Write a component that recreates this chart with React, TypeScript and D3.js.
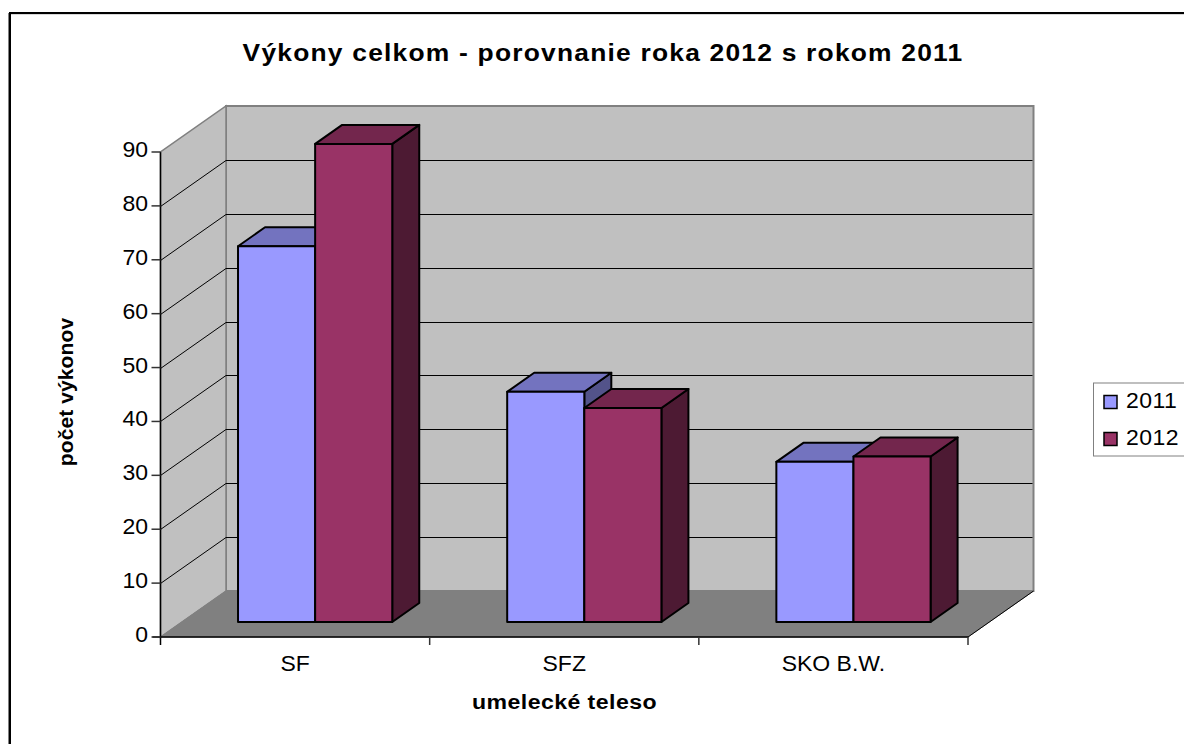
import * as d3 from 'd3'

const W = 1184, H = 744

const categories = ['SF', 'SFZ', 'SKO B.W.']
const years = ['2011', '2012']
const values2011 = [70, 43, 30]
const values2012 = [89, 40, 31]
const yTicks = [0, 10, 20, 30, 40, 50, 60, 70, 80, 90]

const colors = [
  { front: '#9999ff', top: '#7373bf', side: '#53538a' },
  { front: '#993366', top: '#73264d', side: '#4d1a33' },
]

// chart box
const X0 = 160.5, X1 = 968
const Y0 = 637, Y90 = 152
const DX = 65.5, DY = -46 // depth of the 3D box
const BDX = 27, BDY = -19 // depth of a bar
const OY = -15 // bar base sits above the box front
const TOP_NUDGE = 1.5 // bar tops land a little under the gridline position

const font = 'Liberation Sans, Arial, sans-serif'

const pts = (p: number[][]) => p.map((d) => d.join(',')).join(' ')

// the original text is a bit wider than the font, so it gets stretched
function Label({ x, y, size = 21.5, sx = 1.07, anchor = 'middle', bold = false, spacing = 0, rotate = 0, children }: any) {
  return (
    <text
      transform={`translate(${x},${y}) rotate(${rotate}) scale(${sx},1)`}
      textAnchor={anchor}
      fontSize={size}
      fontWeight={bold ? 'bold' : 'normal'}
      letterSpacing={spacing}
      fill="#000"
    >
      {children}
    </text>
  )
}

export default function App() {
  const x = d3.scaleBand<string>().domain(categories).range([X0, X1])
  const y = d3.scaleLinear().domain([0, 90]).range([Y0, Y90])
  const h = (v: number) => Y0 - y(v)

  const barW = x.bandwidth() * 0.2865
  const barStart = x.bandwidth() * 0.288

  const series = [values2011, values2012]

  // later series drawn on top, so a bar hides the side of the one before it
  const bars = categories.flatMap((c, i) =>
    series.map((vals, s) => {
      const left = (x(c) as number) + barStart + s * barW
      const base = Y0 + OY
      const top = base - h(vals[i]) + TOP_NUDGE
      return { key: c + s, left, right: left + barW, top, base, col: colors[s] }
    })
  )

  return (
    <svg width={W} height={H} style={{ position: 'absolute', left: 0, top: 0 }} fontFamily={font}>
      <rect x={0} y={0} width={W} height={H} fill="#fff" />

      {/* page frame: only top and left are in view */}
      <line x1={8.5} x2={8.5} y1={13} y2={H} stroke="#808080" strokeWidth={1} />
      <line x1={10} x2={10} y1={12} y2={H} stroke="#000" strokeWidth={2} />
      <line x1={9} x2={W} y1={13} y2={13} stroke="#000" strokeWidth={2} />
      <line x1={11} x2={W} y1={14.5} y2={14.5} stroke="#d8d8d8" strokeWidth={1} />

      <Label x={603} y={61} size={24} sx={1.1} spacing={1.1} bold>
        Výkony celkom - porovnanie roka 2012 s rokom 2011
      </Label>

      {/* walls */}
      <polygon points={pts([[X0 + DX, Y90 + DY], [X1 + DX, Y90 + DY], [X1 + DX, Y0 + DY], [X0 + DX, Y0 + DY]])} fill="#c0c0c0" stroke="#808080" strokeWidth={2} />
      <polygon points={pts([[X0, Y0], [X0 + DX, Y0 + DY], [X0 + DX, Y90 + DY], [X0, Y90]])} fill="#c0c0c0" stroke="#808080" strokeWidth={1.5} />
      <polygon points={pts([[X0, Y0], [X0 + DX, Y0 + DY], [X1 + DX, Y0 + DY], [X1, Y0]])} fill="#808080" stroke="#808080" />

      {/* gridlines */}
      {yTicks.slice(1, -1).map((t) => {
        const yy = Math.round(y(t)) + 0.5
        return <polyline key={t} points={pts([[X0, yy], [X0 + DX, yy + DY], [X1 + DX - 1, yy + DY]])} fill="none" stroke="#000" strokeWidth={1} />
      })}

      {/* axes */}
      <line x1={X0} x2={X0} y1={Y90} y2={Y0 + 8} stroke="#000" strokeWidth={1.5} />
      <line x1={X0 - 8} x2={X1} y1={Y0} y2={Y0} stroke="#000" strokeWidth={1.5} />
      {yTicks.map((t) => (
        <g key={t}>
          <line x1={X0 - 9} x2={X0} y1={y(t)} y2={y(t)} stroke="#333" strokeWidth={1.5} />
          <Label x={148} y={y(t) + 5} anchor="end">{t}</Label>
        </g>
      ))}
      {[...categories.map((c) => x(c) as number).slice(1), X1].map((p) => (
        <line key={p} x1={p} x2={p} y1={Y0} y2={Y0 + 8} stroke="#333" strokeWidth={1.5} />
      ))}
      <line x1={X1} x2={X1 + DX} y1={Y0} y2={Y0 + DY} stroke="#000" strokeWidth={1} />
      {categories.map((c) => (
        <Label key={c} x={(x(c) as number) + x.bandwidth() / 2} y={671}>{c}</Label>
      ))}

      {/* bars */}
      {bars.map((b) => (
        <g key={b.key} stroke="#000" strokeWidth={2} strokeLinejoin="round">
          <polygon points={pts([[b.right, b.top], [b.right + BDX, b.top + BDY], [b.right + BDX, b.base + BDY], [b.right, b.base]])} fill={b.col.side} />
          <polygon points={pts([[b.left, b.top], [b.left + BDX, b.top + BDY], [b.right + BDX, b.top + BDY], [b.right, b.top]])} fill={b.col.top} />
          <rect x={b.left} y={b.top} width={b.right - b.left} height={b.base - b.top} fill={b.col.front} />
        </g>
      ))}

      <Label x={564.5} y={709} size={21} sx={1.1} spacing={0.4} bold>umelecké teleso</Label>
      <Label x={73} y={392} size={21} sx={1} spacing={0.1} rotate={-90} bold>počet výkonov</Label>

      {/* legend */}
      <rect x={1093.5} y={383} width={110} height={73} fill="#fff" stroke="#808080" strokeWidth={1} />
      {years.map((yr, i) => (
        <g key={yr}>
          <rect x={1104} y={395.5 + i * 37} width={13} height={13} fill={colors[i].front} stroke="#000" strokeWidth={1.5} />
          <Label x={1126} y={408 + i * 37} anchor="start" spacing={0.4}>{yr}</Label>
        </g>
      ))}
    </svg>
  )
}
